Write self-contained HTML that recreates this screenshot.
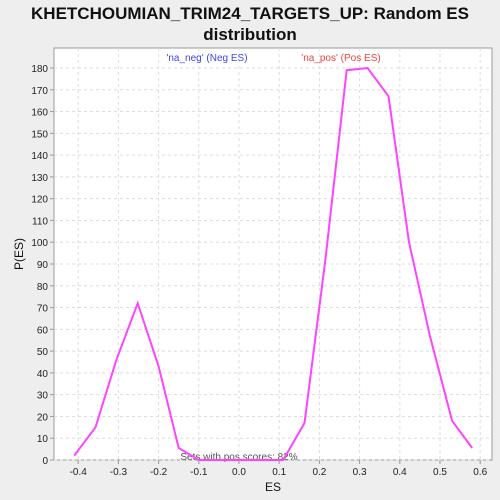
<!DOCTYPE html>
<html><head><meta charset="utf-8"><style>
body{margin:0;background:#eeeeee;font-family:"Liberation Sans","DejaVu Sans",sans-serif;overflow:hidden;}
svg{display:block;}
</style></head><body>
<svg width="500" height="500" xmlns="http://www.w3.org/2000/svg" id="chart">
<rect width="500" height="500" fill="#eeeeee"/>
<text x="250" y="19" text-anchor="middle" font-size="17" font-weight="bold" fill="#111">KHETCHOUMIAN_TRIM24_TARGETS_UP: Random ES</text>
<text x="250" y="40" text-anchor="middle" font-size="17" font-weight="bold" fill="#111">distribution</text>
<rect x="54" y="48" width="438" height="412" fill="#fff" stroke="#999"/>
<g id="grid"></g>
<g id="axes"></g>
<text x="207" y="61" text-anchor="middle" font-size="10" fill="#4444ee">'na_neg' (Neg ES)</text>
<text x="341" y="61" text-anchor="middle" font-size="10" fill="#ee4444">'na_pos' (Pos ES)</text>
<text x="239" y="460" text-anchor="middle" font-size="10" fill="#555">Sets with pos scores: 82%</text>
<text x="273" y="491" text-anchor="middle" font-size="12" fill="#111">ES</text>
<text x="23" y="254" text-anchor="middle" font-size="12" fill="#111" transform="rotate(-90 23 254)">P(ES)</text>
</svg>
<script>
const esValues=[-0.41,-0.357,-0.305,-0.252,-0.2,-0.15,-0.1,0.11,0.163,0.215,0.268,0.32,0.372,0.423,0.475,0.53,0.58];
const pValues=[2,15,46,72,43,5.5,0,0,17,92,179,180,167,100,57,18,5.5];
const xTicks=[-0.4,-0.3,-0.2,-0.1,0,0.1,0.2,0.3,0.4,0.5,0.6];
const xTickLabels=["-0.4","-0.3","-0.2","-0.1","0.0","0.1","0.2","0.3","0.4","0.5","0.6"];
const yTicks=[0,10,20,30,40,50,60,70,80,90,100,110,120,130,140,150,160,170,180];
const NS="http://www.w3.org/2000/svg";
const X=v=>239+v*402;
const Y=v=>460-v*(392/180);
const svg=document.getElementById('chart'),grid=document.getElementById('grid'),axes=document.getElementById('axes');
function mk(tag,attrs,parent){const e=document.createElementNS(NS,tag);for(const k in attrs)e.setAttribute(k,attrs[k]);parent.appendChild(e);return e;}
xTicks.forEach((t,i)=>{
 const g=mk('line',{x1:X(t),x2:X(t),y1:48,y2:460,stroke:'#ddd','stroke-dasharray':'3,3'},grid);
 
 
 const tk=mk('line',{x1:X(t),x2:X(t),y1:460,y2:464,stroke:'#999'},axes);
 
 
 const l=mk('text',{x:X(t),y:475,'text-anchor':'middle','font-size':'10',fill:'#222'},axes);
 l.textContent=xTickLabels[i];
 
 
});
yTicks.forEach(t=>{
 const g=mk('line',{x1:54,x2:492,y1:Y(t),y2:Y(t),stroke:'#ddd','stroke-dasharray':'3,3'},grid);
 
 
 const tk=mk('line',{x1:50,x2:54,y1:Y(t),y2:Y(t),stroke:'#999'},axes);
 
 
 const l=mk('text',{x:48,y:Y(t)+4,'text-anchor':'end','font-size':'10',fill:'#222'},axes);
 l.textContent=String(t);
 
 
});
const pts=esValues.map((v,i)=>X(v).toFixed(1)+','+Y(pValues[i]).toFixed(1)).join(' ');
const line=mk('polyline',{points:pts,fill:'none',stroke:'#ff44ff','stroke-width':'2'},svg);


</script>
</body></html>
